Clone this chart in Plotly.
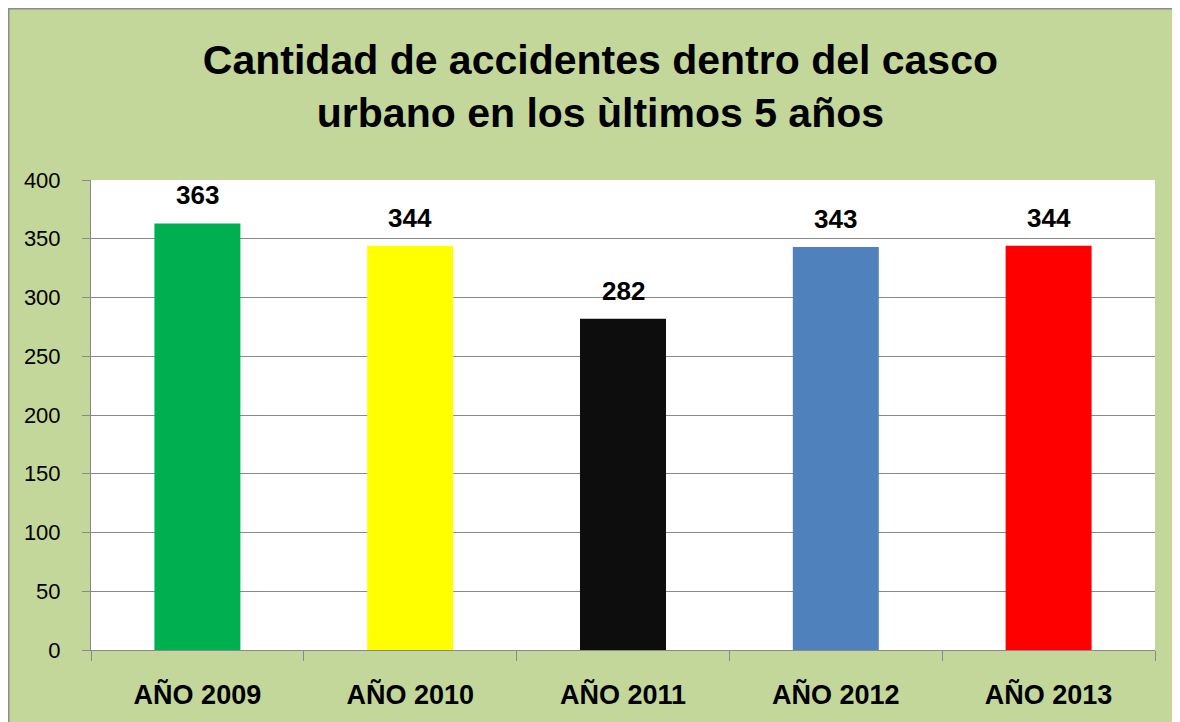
import plotly.graph_objects as go

categories = ["AÑO 2009", "AÑO 2010", "AÑO 2011", "AÑO 2012", "AÑO 2013"]
values = [363, 344, 282, 343, 344]
bar_colors = ["#00B050", "#FFFF00", "#0D0D0D", "#4F81BD", "#FF0000"]
y_ticks = [0, 50, 100, 150, 200, 250, 300, 350, 400]
title_text = "Cantidad de accidentes dentro del casco<br>urbano en los ùltimos 5 años"

# figure sits at (8, 8) in the page because of the default body margin
W, H = 1172, 714
L, R, T, B = 83, 25, 172, 72
PW, PH = W - L - R, H - T - B

def px_x(p):
    return (p - L) / PW

def px_y(p):
    return (H - B - p) / PH

FONT = "Liberation Sans, Arial, sans-serif"
GRID = "#898989"
BG = "#C4D79B"

fig = go.Figure()
fig.add_trace(go.Bar(
    x=categories, y=values,
    marker=dict(color=bar_colors, line=dict(width=0)),
    width=0.404,
    hoverinfo="x+y",
))

for c, v in zip(categories, values):
    fig.add_annotation(
        x=c, y=v, xref="x", yref="y", text=f"<b>{v}</b>",
        showarrow=False, yanchor="middle", yshift=28,
        font=dict(family=FONT, size=26, color="#000000"),
    )

shapes = [
    dict(type="line", xref="paper", yref="paper", x0=px_x(0), x1=px_x(W), y0=px_y(0.75), y1=px_y(0.75),
         line=dict(color="#8C8C8C", width=1.5), layer="above"),
    dict(type="line", xref="paper", yref="paper", x0=px_x(0.75), x1=px_x(0.75), y0=px_y(0), y1=px_y(H),
         line=dict(color="#8C8C8C", width=1.5), layer="above"),
]

fig.update_layout(
    width=W, height=H,
    margin=dict(l=L, r=R, t=T, b=B, autoexpand=False),
    paper_bgcolor=BG,
    plot_bgcolor="#FFFFFF",
    showlegend=False,
    shapes=shapes,
    title=dict(
        text=f"<b>{title_text}</b>",
        x=0.5055, xanchor="center", xref="container",
        y=1 - 66 / H, yanchor="middle", yref="container",
        font=dict(family=FONT, size=41, color="#000000"),
    ),
    bargap=0.596,
)

fig.update_xaxes(
    type="category",
    showline=True, linecolor=GRID, linewidth=1,
    ticks="outside", tickson="boundaries", ticklen=10, tickcolor=GRID, tickwidth=1,
    showgrid=False,
    tickfont=dict(family=FONT, size=27, color="#000000"),
    ticklabelstandoff=21,
    tickprefix="<b>", ticksuffix="</b>",
)
fig.update_yaxes(
    range=[0, 400], tickvals=y_ticks,
    showline=True, linecolor=GRID, linewidth=1,
    ticks="outside", ticklen=8, tickcolor=GRID, tickwidth=1,
    showgrid=True, gridcolor=GRID, gridwidth=1,
    zeroline=False,
    tickfont=dict(family=FONT, size=22, color="#000000"),
    ticklabelstandoff=17,
)

css_js = (
    "var s=document.createElement('style');"
    "s.textContent='html,body{overflow:hidden !important;}"
    "::-webkit-scrollbar{display:none;width:0;height:0;}';"
    "document.head.appendChild(s);"
)

fig.write_html(
    "out.html",
    config={"displayModeBar": False},
    post_script=css_js,
)
